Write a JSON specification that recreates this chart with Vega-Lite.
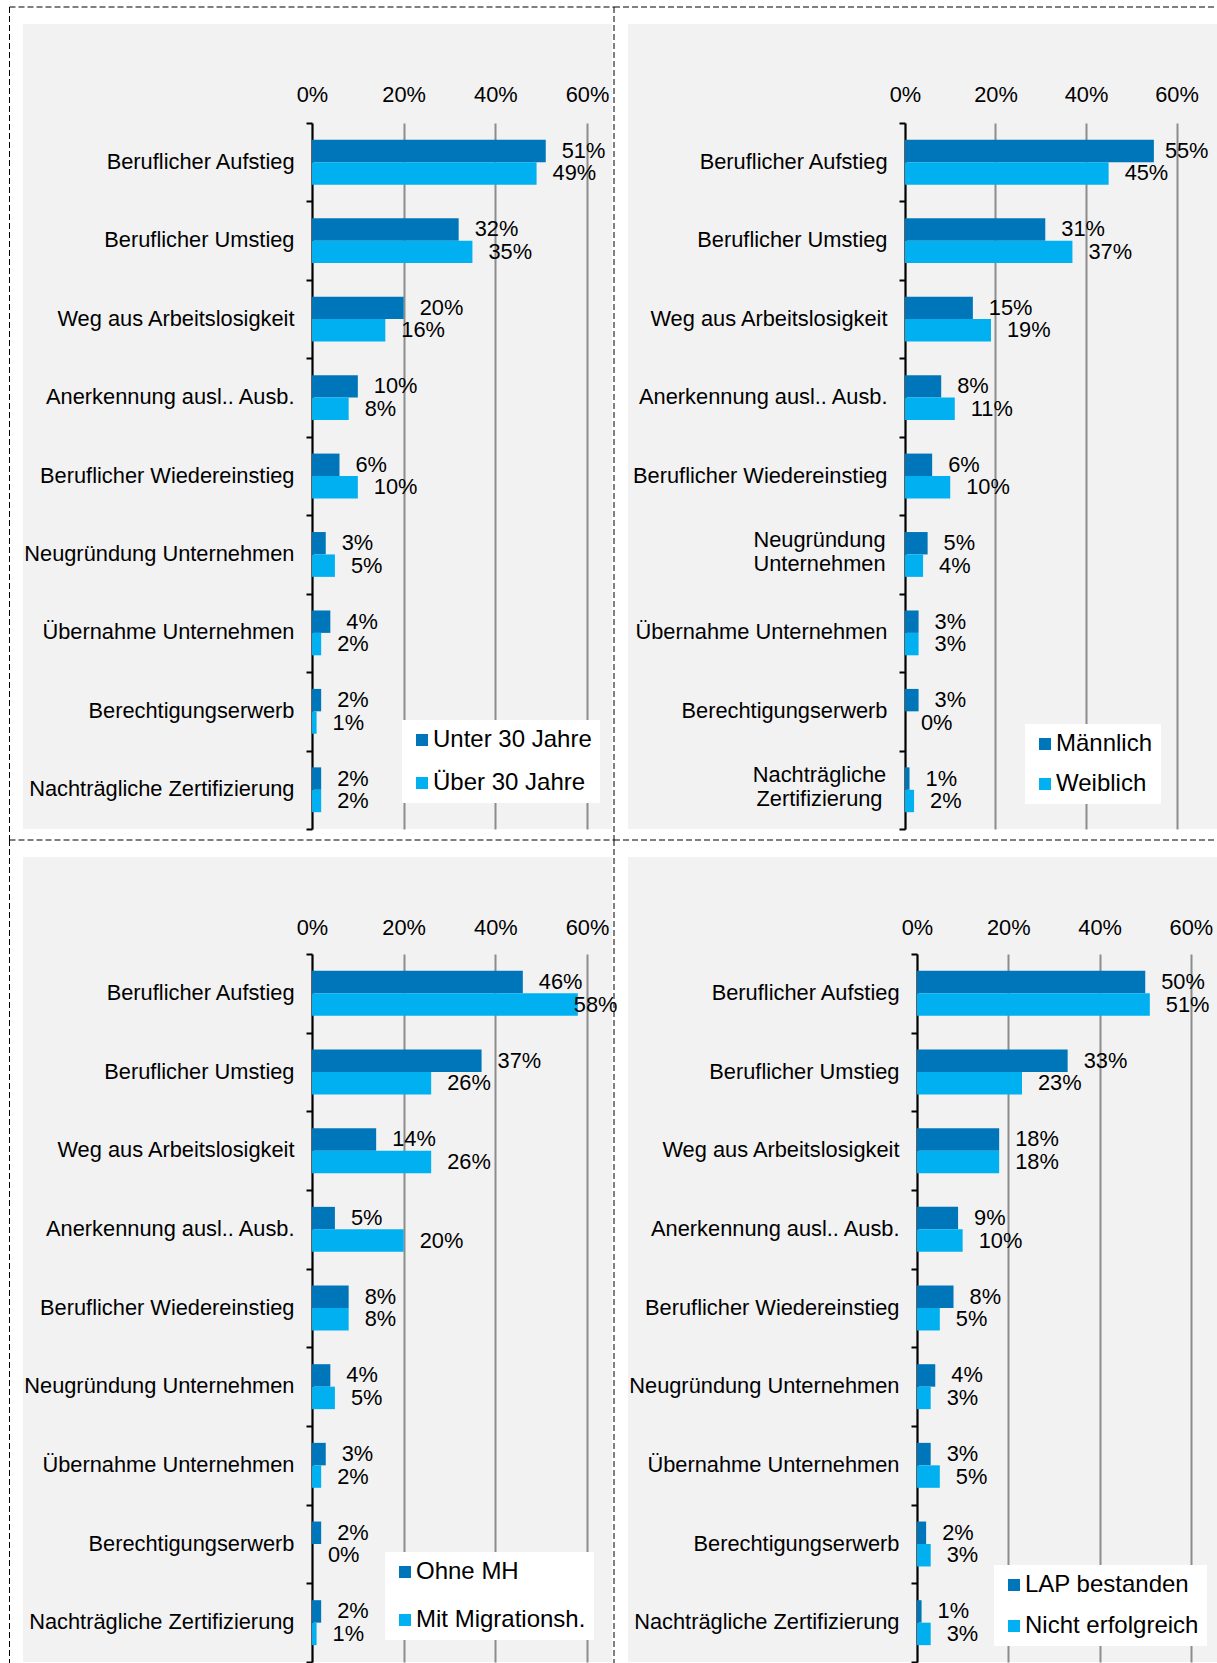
{
  "$schema": "https://vega.github.io/schema/vega-lite/v6.json",
  "padding": {"left": 9, "top": 6, "right": 0, "bottom": 0},
  "background": "white",
  "datasets": {
    "alter": [
      {"cat": "Beruflicher Aufstieg", "series": "Unter 30 Jahre", "value": 0.51},
      {"cat": "Beruflicher Aufstieg", "series": "Über 30 Jahre", "value": 0.49},
      {"cat": "Beruflicher Umstieg", "series": "Unter 30 Jahre", "value": 0.32},
      {"cat": "Beruflicher Umstieg", "series": "Über 30 Jahre", "value": 0.35},
      {"cat": "Weg aus Arbeitslosigkeit", "series": "Unter 30 Jahre", "value": 0.20},
      {"cat": "Weg aus Arbeitslosigkeit", "series": "Über 30 Jahre", "value": 0.16},
      {"cat": "Anerkennung ausl.. Ausb.", "series": "Unter 30 Jahre", "value": 0.10},
      {"cat": "Anerkennung ausl.. Ausb.", "series": "Über 30 Jahre", "value": 0.08},
      {"cat": "Beruflicher Wiedereinstieg", "series": "Unter 30 Jahre", "value": 0.06},
      {"cat": "Beruflicher Wiedereinstieg", "series": "Über 30 Jahre", "value": 0.10},
      {"cat": "Neugründung Unternehmen", "series": "Unter 30 Jahre", "value": 0.03},
      {"cat": "Neugründung Unternehmen", "series": "Über 30 Jahre", "value": 0.05},
      {"cat": "Übernahme Unternehmen", "series": "Unter 30 Jahre", "value": 0.04},
      {"cat": "Übernahme Unternehmen", "series": "Über 30 Jahre", "value": 0.02},
      {"cat": "Berechtigungserwerb", "series": "Unter 30 Jahre", "value": 0.02},
      {"cat": "Berechtigungserwerb", "series": "Über 30 Jahre", "value": 0.01},
      {"cat": "Nachträgliche Zertifizierung", "series": "Unter 30 Jahre", "value": 0.02},
      {"cat": "Nachträgliche Zertifizierung", "series": "Über 30 Jahre", "value": 0.02}
    ],
    "geschlecht": [
      {"cat": "Beruflicher Aufstieg", "series": "Männlich", "value": 0.55},
      {"cat": "Beruflicher Aufstieg", "series": "Weiblich", "value": 0.45},
      {"cat": "Beruflicher Umstieg", "series": "Männlich", "value": 0.31},
      {"cat": "Beruflicher Umstieg", "series": "Weiblich", "value": 0.37},
      {"cat": "Weg aus Arbeitslosigkeit", "series": "Männlich", "value": 0.15},
      {"cat": "Weg aus Arbeitslosigkeit", "series": "Weiblich", "value": 0.19},
      {"cat": "Anerkennung ausl.. Ausb.", "series": "Männlich", "value": 0.08},
      {"cat": "Anerkennung ausl.. Ausb.", "series": "Weiblich", "value": 0.11},
      {"cat": "Beruflicher Wiedereinstieg", "series": "Männlich", "value": 0.06},
      {"cat": "Beruflicher Wiedereinstieg", "series": "Weiblich", "value": 0.10},
      {"cat": "Neugründung Unternehmen", "series": "Männlich", "value": 0.05},
      {"cat": "Neugründung Unternehmen", "series": "Weiblich", "value": 0.04},
      {"cat": "Übernahme Unternehmen", "series": "Männlich", "value": 0.03},
      {"cat": "Übernahme Unternehmen", "series": "Weiblich", "value": 0.03},
      {"cat": "Berechtigungserwerb", "series": "Männlich", "value": 0.03},
      {"cat": "Berechtigungserwerb", "series": "Weiblich", "value": 0.00},
      {"cat": "Nachträgliche Zertifizierung", "series": "Männlich", "value": 0.01},
      {"cat": "Nachträgliche Zertifizierung", "series": "Weiblich", "value": 0.02}
    ],
    "migration": [
      {"cat": "Beruflicher Aufstieg", "series": "Ohne MH", "value": 0.46},
      {"cat": "Beruflicher Aufstieg", "series": "Mit Migrationsh.", "value": 0.58},
      {"cat": "Beruflicher Umstieg", "series": "Ohne MH", "value": 0.37},
      {"cat": "Beruflicher Umstieg", "series": "Mit Migrationsh.", "value": 0.26},
      {"cat": "Weg aus Arbeitslosigkeit", "series": "Ohne MH", "value": 0.14},
      {"cat": "Weg aus Arbeitslosigkeit", "series": "Mit Migrationsh.", "value": 0.26},
      {"cat": "Anerkennung ausl.. Ausb.", "series": "Ohne MH", "value": 0.05},
      {"cat": "Anerkennung ausl.. Ausb.", "series": "Mit Migrationsh.", "value": 0.20},
      {"cat": "Beruflicher Wiedereinstieg", "series": "Ohne MH", "value": 0.08},
      {"cat": "Beruflicher Wiedereinstieg", "series": "Mit Migrationsh.", "value": 0.08},
      {"cat": "Neugründung Unternehmen", "series": "Ohne MH", "value": 0.04},
      {"cat": "Neugründung Unternehmen", "series": "Mit Migrationsh.", "value": 0.05},
      {"cat": "Übernahme Unternehmen", "series": "Ohne MH", "value": 0.03},
      {"cat": "Übernahme Unternehmen", "series": "Mit Migrationsh.", "value": 0.02},
      {"cat": "Berechtigungserwerb", "series": "Ohne MH", "value": 0.02},
      {"cat": "Berechtigungserwerb", "series": "Mit Migrationsh.", "value": 0.00},
      {"cat": "Nachträgliche Zertifizierung", "series": "Ohne MH", "value": 0.02},
      {"cat": "Nachträgliche Zertifizierung", "series": "Mit Migrationsh.", "value": 0.01}
    ],
    "lap": [
      {"cat": "Beruflicher Aufstieg", "series": "LAP bestanden", "value": 0.50},
      {"cat": "Beruflicher Aufstieg", "series": "Nicht erfolgreich", "value": 0.51},
      {"cat": "Beruflicher Umstieg", "series": "LAP bestanden", "value": 0.33},
      {"cat": "Beruflicher Umstieg", "series": "Nicht erfolgreich", "value": 0.23},
      {"cat": "Weg aus Arbeitslosigkeit", "series": "LAP bestanden", "value": 0.18},
      {"cat": "Weg aus Arbeitslosigkeit", "series": "Nicht erfolgreich", "value": 0.18},
      {"cat": "Anerkennung ausl.. Ausb.", "series": "LAP bestanden", "value": 0.09},
      {"cat": "Anerkennung ausl.. Ausb.", "series": "Nicht erfolgreich", "value": 0.10},
      {"cat": "Beruflicher Wiedereinstieg", "series": "LAP bestanden", "value": 0.08},
      {"cat": "Beruflicher Wiedereinstieg", "series": "Nicht erfolgreich", "value": 0.05},
      {"cat": "Neugründung Unternehmen", "series": "LAP bestanden", "value": 0.04},
      {"cat": "Neugründung Unternehmen", "series": "Nicht erfolgreich", "value": 0.03},
      {"cat": "Übernahme Unternehmen", "series": "LAP bestanden", "value": 0.03},
      {"cat": "Übernahme Unternehmen", "series": "Nicht erfolgreich", "value": 0.05},
      {"cat": "Berechtigungserwerb", "series": "LAP bestanden", "value": 0.02},
      {"cat": "Berechtigungserwerb", "series": "Nicht erfolgreich", "value": 0.03},
      {"cat": "Nachträgliche Zertifizierung", "series": "LAP bestanden", "value": 0.01},
      {"cat": "Nachträgliche Zertifizierung", "series": "Nicht erfolgreich", "value": 0.03}
    ]
  },
  "columns": 2,
  "spacing": {"row": 28, "column": 16},
  "bounds": "flush",
  "concat": [
    {
      "width": 589,
      "height": 805,
      "layer": [
        {
          "data": {"name": "alter"},
          "layer": [
            {
              "mark": {"type": "bar"},
              "encoding": {
                "y": {"field": "cat", "type": "nominal", "sort": null, "title": null,
                  "scale": {"range": [99, 805], "paddingInner": 0, "paddingOuter": 0},
                  "axis": {"orient": "left", "offset": -289, "domainColor": "black", "domainWidth": 2, "tickColor": "black", "tickWidth": 2, "tickSize": 6, "tickBand": "extent", "labelPadding": 12, "labelOffset": -1, "labelFontSize": 21.8, "labelLimit": 400, "labelColor": "black", "grid": false}},
                "yOffset": {"field": "series", "type": "nominal", "scale": {"domain": ["Unter 30 Jahre", "Über 30 Jahre"], "paddingInner": 0, "paddingOuter": 0.75}},
                "x": {"field": "value", "type": "quantitative", "title": null,
                  "scale": {"domain": [-0.63055, 0.65455], "nice": false, "zero": false},
                  "axis": {"orient": "top", "offset": -84, "values": [0, 0.2, 0.4, 0.6], "format": ".0%", "domain": false, "ticks": false, "tickSize": 0, "labelPadding": 2, "labelFontSize": 21.8, "labelColor": "black", "grid": true, "gridColor": "#8c8c8c", "gridWidth": 2}},
                "color": {"field": "series", "type": "nominal",
                  "scale": {"domain": ["Unter 30 Jahre", "Über 30 Jahre"], "range": ["#0076BA", "#00B0F0"]},
                  "legend": {"orient": "none", "legendX": 379, "legendY": 696, "title": null, "fillColor": "white", "padding": 8, "rowPadding": 19, "labelFontSize": 24, "labelLimit": 400, "labelColor": "black", "symbolType": "square", "symbolSize": 144, "symbolStrokeWidth": 0, "labelOffset": -1}}
              }
            },
            {
              "mark": {"type": "text", "align": "left", "baseline": "middle", "dx": 16, "fontSize": 21.8, "color": "black"},
              "encoding": {
                "y": {"field": "cat", "type": "nominal", "sort": null},
                "yOffset": {"field": "series", "type": "nominal"},
                "x": {"field": "value", "type": "quantitative"},
                "text": {"field": "value", "type": "quantitative", "format": ".0%"}
              }
            }
          ]
        },
        {
          "data": {"values": [{"rahmen": "Feld"}]},
          "layer": [
            {"mark": {"type": "rule", "color": "#000000", "strokeWidth": 1, "strokeDash": [6, 3]},
             "encoding": {
               "x": {"datum": 0, "type": "quantitative", "scale": {"domain": [0, 1], "range": [-13.5, 591]}, "axis": null},
               "x2": {"datum": 1},
               "y": {"datum": 0, "type": "quantitative", "scale": {"domain": [0, 1], "range": [-17, 816]}, "axis": null}}},
            {"mark": {"type": "rule", "color": "#000000", "strokeWidth": 1, "strokeDash": [6, 3]},
             "encoding": {
               "x": {"datum": 0, "type": "quantitative", "scale": {"domain": [0, 1], "range": [-13.5, 591]}, "axis": null},
               "x2": {"datum": 1},
               "y": {"datum": 1, "type": "quantitative", "scale": {"domain": [0, 1], "range": [-17, 816]}, "axis": null}}},
            {"mark": {"type": "rule", "color": "#000000", "strokeWidth": 1, "strokeDash": [6, 3]},
             "encoding": {
               "x": {"datum": 0, "type": "quantitative", "scale": {"domain": [0, 1], "range": [-13.5, 591]}, "axis": null},
               "y": {"datum": 0, "type": "quantitative", "scale": {"domain": [0, 1], "range": [-17, 816]}, "axis": null},
               "y2": {"datum": 1}}},
            {"mark": {"type": "rule", "color": "#000000", "strokeWidth": 1, "strokeDash": [6, 3]},
             "encoding": {
               "x": {"datum": 1, "type": "quantitative", "scale": {"domain": [0, 1], "range": [-13.5, 591]}, "axis": null},
               "y": {"datum": 0, "type": "quantitative", "scale": {"domain": [0, 1], "range": [-17, 816]}, "axis": null},
               "y2": {"datum": 1}}}
          ]
        }
      ],
      "resolve": {"scale": {"x": "independent", "y": "independent"}}
    },
    {
      "width": 589,
      "height": 805,
      "layer": [
        {
          "data": {"name": "geschlecht"},
          "layer": [
            {
              "mark": {"type": "bar"},
              "encoding": {
                "y": {"field": "cat", "type": "nominal", "sort": null, "title": null,
                  "scale": {"range": [99, 805], "paddingInner": 0, "paddingOuter": 0},
                  "axis": {"orient": "left", "offset": -277, "domainColor": "black", "domainWidth": 2, "tickColor": "black", "tickWidth": 2, "tickSize": 6, "tickBand": "extent", "labelFontSize": 21.8, "labelLimit": 400, "labelColor": "black", "labelLineHeight": 24, "grid": false,
                    "labelAlign": {"condition": {"test": "datum.value == 'Neugründung Unternehmen' || datum.value == 'Nachträgliche Zertifizierung'", "value": "center"}, "value": "right"},
                    "labelPadding": {"condition": {"test": "datum.value == 'Neugründung Unternehmen' || datum.value == 'Nachträgliche Zertifizierung'", "value": 80}, "value": 12},
                    "labelOffset": {"condition": {"test": "datum.value == 'Neugründung Unternehmen' || datum.value == 'Nachträgliche Zertifizierung'", "value": -15}, "value": -1},
                    "labelExpr": "datum.label == 'Neugründung Unternehmen' ? ['Neugründung', 'Unternehmen'] : datum.label == 'Nachträgliche Zertifizierung' ? ['Nachträgliche', 'Zertifizierung'] : datum.label"}},
                "yOffset": {"field": "series", "type": "nominal", "scale": {"domain": ["Männlich", "Weiblich"], "paddingInner": 0, "paddingOuter": 0.75}},
                "x": {"field": "value", "type": "quantitative", "title": null,
                  "scale": {"domain": [-0.61215, 0.6895], "nice": false, "zero": false},
                  "axis": {"orient": "top", "offset": -84, "values": [0, 0.2, 0.4, 0.6], "format": ".0%", "domain": false, "ticks": false, "tickSize": 0, "labelPadding": 2, "labelFontSize": 21.8, "labelColor": "black", "grid": true, "gridColor": "#8c8c8c", "gridWidth": 2}},
                "color": {"field": "series", "type": "nominal",
                  "scale": {"domain": ["Männlich", "Weiblich"], "range": ["#0076BA", "#00B0F0"]},
                  "legend": {"orient": "none", "legendX": 397, "legendY": 700, "title": null, "fillColor": "white", "padding": 8, "rowPadding": 16, "labelFontSize": 24, "labelLimit": 400, "labelColor": "black", "symbolType": "square", "symbolSize": 144, "symbolStrokeWidth": 0, "labelOffset": -1}}
              }
            },
            {
              "transform": [{"filter": "datum.value < 0.55"}],
              "mark": {"type": "text", "align": "left", "baseline": "middle", "dx": 16, "fontSize": 21.8, "color": "black"},
              "encoding": {
                "y": {"field": "cat", "type": "nominal", "sort": null},
                "yOffset": {"field": "series", "type": "nominal"},
                "x": {"field": "value", "type": "quantitative"},
                "text": {"field": "value", "type": "quantitative", "format": ".0%"}
              }
            },
            {
              "transform": [{"filter": "datum.value >= 0.55"}],
              "mark": {"type": "text", "align": "left", "baseline": "middle", "dx": 11, "fontSize": 21.8, "color": "black"},
              "encoding": {
                "y": {"field": "cat", "type": "nominal", "sort": null},
                "yOffset": {"field": "series", "type": "nominal"},
                "x": {"field": "value", "type": "quantitative"},
                "text": {"field": "value", "type": "quantitative", "format": ".0%"}
              }
            }
          ]
        },
        {
          "data": {"values": [{"rahmen": "Feld"}]},
          "layer": [
            {"mark": {"type": "rule", "color": "#000000", "strokeWidth": 1, "strokeDash": [6, 3]},
             "encoding": {
               "x": {"datum": 0, "type": "quantitative", "scale": {"domain": [0, 1], "range": [-14, 589]}, "axis": null},
               "x2": {"datum": 1},
               "y": {"datum": 0, "type": "quantitative", "scale": {"domain": [0, 1], "range": [-17, 816]}, "axis": null}}},
            {"mark": {"type": "rule", "color": "#000000", "strokeWidth": 1, "strokeDash": [6, 3]},
             "encoding": {
               "x": {"datum": 0, "type": "quantitative", "scale": {"domain": [0, 1], "range": [-14, 589]}, "axis": null},
               "x2": {"datum": 1},
               "y": {"datum": 1, "type": "quantitative", "scale": {"domain": [0, 1], "range": [-17, 816]}, "axis": null}}}
          ]
        }
      ],
      "resolve": {"scale": {"x": "independent", "y": "independent"}}
    },
    {
      "width": 589,
      "height": 805,
      "layer": [
        {
          "data": {"name": "migration"},
          "layer": [
            {
              "mark": {"type": "bar"},
              "encoding": {
                "y": {"field": "cat", "type": "nominal", "sort": null, "title": null,
                  "scale": {"range": [97, 805], "paddingInner": 0, "paddingOuter": 0},
                  "axis": {"orient": "left", "offset": -289, "domainColor": "black", "domainWidth": 2, "tickColor": "black", "tickWidth": 2, "tickSize": 6, "tickBand": "extent", "labelPadding": 12, "labelOffset": -1, "labelFontSize": 21.8, "labelLimit": 400, "labelColor": "black", "grid": false}},
                "yOffset": {"field": "series", "type": "nominal", "scale": {"domain": ["Ohne MH", "Mit Migrationsh."], "paddingInner": 0, "paddingOuter": 0.75}},
                "x": {"field": "value", "type": "quantitative", "title": null,
                  "scale": {"domain": [-0.63055, 0.65455], "nice": false, "zero": false},
                  "axis": {"orient": "top", "offset": -84, "values": [0, 0.2, 0.4, 0.6], "format": ".0%", "domain": false, "ticks": false, "tickSize": 0, "labelPadding": 2, "labelFontSize": 21.8, "labelColor": "black", "grid": true, "gridColor": "#8c8c8c", "gridWidth": 2}},
                "color": {"field": "series", "type": "nominal",
                  "scale": {"domain": ["Ohne MH", "Mit Migrationsh."], "range": ["#0076BA", "#00B0F0"]},
                  "legend": {"orient": "none", "legendX": 362, "legendY": 695, "title": null, "fillColor": "white", "padding": 8, "rowPadding": 24, "labelFontSize": 24, "labelLimit": 400, "labelColor": "black", "symbolType": "square", "symbolSize": 144, "symbolStrokeWidth": 0, "labelOffset": -1}}
              }
            },
            {
              "transform": [{"filter": "datum.value < 0.55"}],
              "mark": {"type": "text", "align": "left", "baseline": "middle", "dx": 16, "fontSize": 21.8, "color": "black"},
              "encoding": {
                "y": {"field": "cat", "type": "nominal", "sort": null},
                "yOffset": {"field": "series", "type": "nominal"},
                "x": {"field": "value", "type": "quantitative"},
                "text": {"field": "value", "type": "quantitative", "format": ".0%"}
              }
            },
            {
              "transform": [{"filter": "datum.value >= 0.55"}],
              "mark": {"type": "text", "align": "left", "baseline": "middle", "dx": -4, "fontSize": 21.8, "color": "black"},
              "encoding": {
                "y": {"field": "cat", "type": "nominal", "sort": null},
                "yOffset": {"field": "series", "type": "nominal"},
                "x": {"field": "value", "type": "quantitative"},
                "text": {"field": "value", "type": "quantitative", "format": ".0%"}
              }
            }
          ]
        },
        {
          "data": {"values": [{"rahmen": "Feld"}]},
          "layer": [
            {"mark": {"type": "rule", "color": "#000000", "strokeWidth": 1, "strokeDash": [6, 3]},
             "encoding": {
               "x": {"datum": 0, "type": "quantitative", "scale": {"domain": [0, 1], "range": [-13.5, 591]}, "axis": null},
               "y": {"datum": 0, "type": "quantitative", "scale": {"domain": [0, 1], "range": [-17, 807]}, "axis": null},
               "y2": {"datum": 1}}},
            {"mark": {"type": "rule", "color": "#000000", "strokeWidth": 1, "strokeDash": [6, 3]},
             "encoding": {
               "x": {"datum": 1, "type": "quantitative", "scale": {"domain": [0, 1], "range": [-13.5, 591]}, "axis": null},
               "y": {"datum": 0, "type": "quantitative", "scale": {"domain": [0, 1], "range": [-17, 807]}, "axis": null},
               "y2": {"datum": 1}}}
          ]
        }
      ],
      "resolve": {"scale": {"x": "independent", "y": "independent"}}
    },
    {
      "width": 589,
      "height": 805,
      "data": {"name": "lap"},
      "layer": [
        {
          "mark": {"type": "bar"},
          "encoding": {
            "y": {"field": "cat", "type": "nominal", "sort": null, "title": null,
              "scale": {"range": [97, 805], "paddingInner": 0, "paddingOuter": 0},
              "axis": {"orient": "left", "offset": -289, "domainColor": "black", "domainWidth": 2, "tickColor": "black", "tickWidth": 2, "tickSize": 6, "tickBand": "extent", "labelPadding": 12, "labelOffset": -1, "labelFontSize": 21.8, "labelLimit": 400, "labelColor": "black", "grid": false}},
            "yOffset": {"field": "series", "type": "nominal", "scale": {"domain": ["LAP bestanden", "Nicht erfolgreich"], "paddingInner": 0, "paddingOuter": 0.75}},
            "x": {"field": "value", "type": "quantitative", "title": null,
              "scale": {"domain": [-0.63308, 0.65717], "nice": false, "zero": false},
              "axis": {"orient": "top", "offset": -84, "values": [0, 0.2, 0.4, 0.6], "format": ".0%", "domain": false, "ticks": false, "tickSize": 0, "labelPadding": 2, "labelFontSize": 21.8, "labelColor": "black", "grid": true, "gridColor": "#8c8c8c", "gridWidth": 2}},
            "color": {"field": "series", "type": "nominal",
              "scale": {"domain": ["LAP bestanden", "Nicht erfolgreich"], "range": ["#0076BA", "#00B0F0"]},
              "legend": {"orient": "none", "legendX": 366, "legendY": 708, "title": null, "fillColor": "white", "padding": 8, "rowPadding": 17, "labelFontSize": 24, "labelLimit": 400, "labelColor": "black", "symbolType": "square", "symbolSize": 144, "symbolStrokeWidth": 0, "labelOffset": -1}}
          }
        },
        {
          "mark": {"type": "text", "align": "left", "baseline": "middle", "dx": 16, "fontSize": 21.8, "color": "black"},
          "encoding": {
            "y": {"field": "cat", "type": "nominal", "sort": null},
            "yOffset": {"field": "series", "type": "nominal"},
            "x": {"field": "value", "type": "quantitative"},
            "text": {"field": "value", "type": "quantitative", "format": ".0%"}
          }
        }
      ]
    }
  ],
  "resolve": {
    "scale": {"x": "independent", "y": "independent", "color": "independent", "yOffset": "independent"},
    "legend": {"color": "independent"}
  },
  "config": {
    "font": "Liberation Sans",
    "view": {"fill": "#f2f2f2", "stroke": null},
    "axis": {"labelFont": "Liberation Sans"},
    "legend": {"labelFont": "Liberation Sans"},
    "text": {"font": "Liberation Sans"}
  }
}
